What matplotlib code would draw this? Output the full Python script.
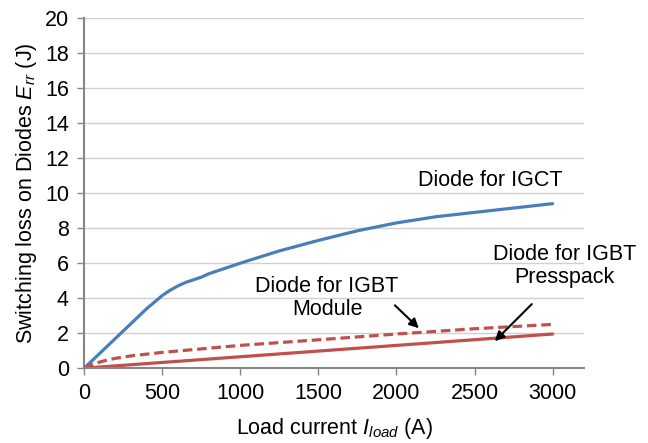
import matplotlib
matplotlib.use("Agg")
import matplotlib.pyplot as plt

plt.rcParams['font.family'] = ['Liberation Sans', 'DejaVu Sans']
plt.rcParams['mathtext.fontset'] = 'custom'
plt.rcParams['mathtext.rm'] = 'Liberation Sans'
plt.rcParams['mathtext.it'] = 'Liberation Sans:italic'

# Reverse-recovery energy versus load current for three diode types
current_igct = [0, 100, 200, 300, 400, 500, 550, 600, 650, 700, 750, 800, 900, 1000,
                1250, 1500, 1750, 2000, 2250, 2500, 2750, 3000]
loss_igct = [0, 0.85, 1.7, 2.55, 3.4, 4.15, 4.45, 4.7, 4.9, 5.05, 5.2, 5.4, 5.7, 6.0,
             6.7, 7.3, 7.85, 8.3, 8.65, 8.9, 9.15, 9.4]

current_module = [0, 50, 100, 150, 200, 300, 400, 500, 750, 1000, 1500, 2000, 2500, 3000]
loss_module = [0, 0.2, 0.35, 0.47, 0.56, 0.7, 0.8, 0.9, 1.1, 1.3, 1.62, 1.95, 2.25, 2.5]

current_presspack = [0, 1000, 2000, 3000]
loss_presspack = [0, 0.65, 1.3, 1.95]

x_ticks = [0, 500, 1000, 1500, 2000, 2500, 3000]
y_ticks = list(range(0, 21, 2))

blue = '#4a7ebb'
red = '#c0504d'
axis_grey = '#868686'
fs = 15.5

fig = plt.figure(figsize=(6.48, 4.43), dpi=100)
ax = fig.add_axes([0.130, 0.169, 0.771, 0.790])

ax.plot(current_igct, loss_igct, color=blue, lw=2.3, solid_capstyle='round',
        solid_joinstyle='round')
ax.plot(current_module, loss_module, color=red, lw=2.3, ls=(0, (3, 1.5)))
ax.plot(current_presspack, loss_presspack, color=red, lw=2.3, solid_capstyle='round')

ax.set_xlim(0, 3200)
ax.set_ylim(0, 20)
ax.set_xticks(x_ticks)
ax.set_yticks(y_ticks)
ax.tick_params(labelsize=fs, direction='out', length=5, color=axis_grey, width=1, pad=6)
ax.grid(axis='y', color='#d0d0d0', lw=1)
ax.set_axisbelow(True)
for side in ['top', 'right']:
    ax.spines[side].set_visible(False)
for side in ['left', 'bottom']:
    ax.spines[side].set_color(axis_grey)
    ax.spines[side].set_linewidth(1.5)

ax.set_xlabel('Load current $I_{load}$ (A)', fontsize=fs, labelpad=8)
ax.set_ylabel('Switching loss on Diodes $E_{rr}$ (J)', fontsize=fs, labelpad=4)

ax.text(2600, 10.7, 'Diode for IGCT', fontsize=fs, ha='center', va='center')
ax.text(1555, 4.0, 'Diode for IGBT\nModule', fontsize=fs, ha='center', va='center',
        linespacing=1.1)
ax.text(3077, 5.85, 'Diode for IGBT\nPresspack', fontsize=fs, ha='center', va='center',
        linespacing=1.1)

arrow = dict(arrowstyle='-|>', color='black', lw=1.5, mutation_scale=14)
ax.annotate('', xy=(2156, 2.17), xytext=(1977, 3.7), arrowprops=arrow)
ax.annotate('', xy=(2617, 1.43), xytext=(2879, 3.77), arrowprops=arrow)

fig.savefig('out.png', dpi=100)
